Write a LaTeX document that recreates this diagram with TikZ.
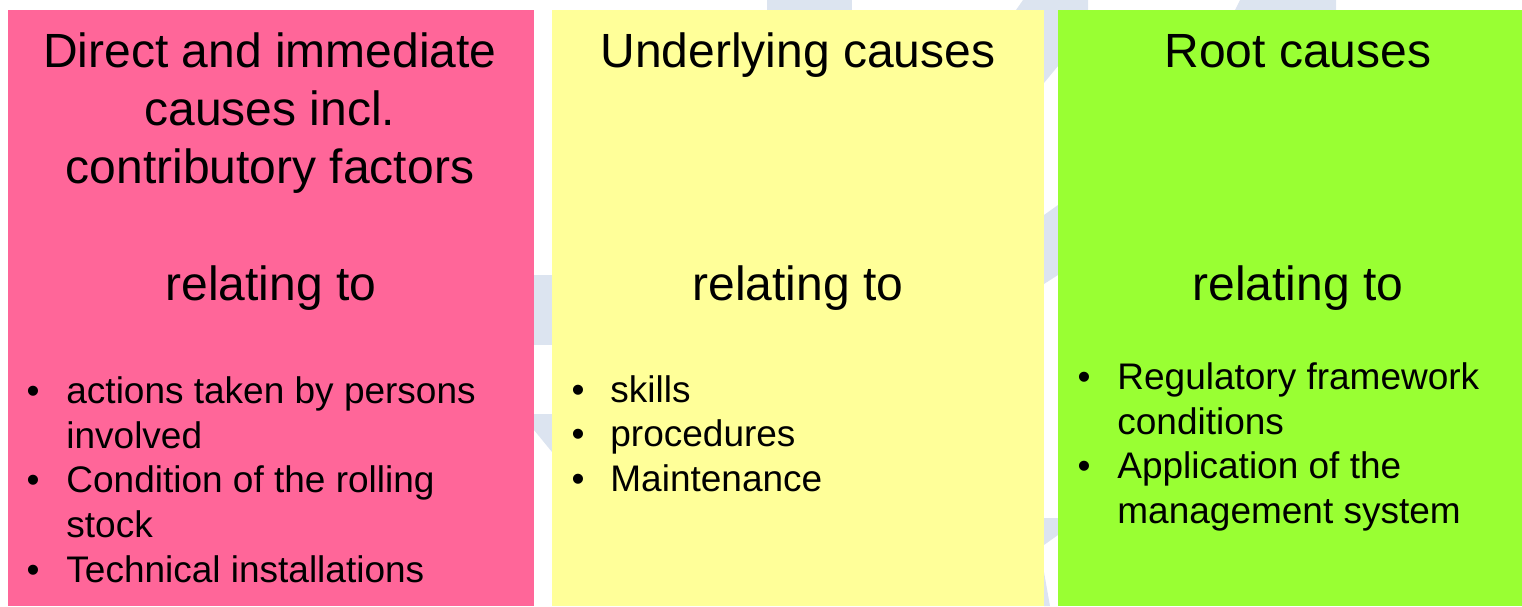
\documentclass[tikz,border=0pt]{standalone}
\usepackage{fontspec}
\setmainfont{Liberation Sans}
\definecolor{pinkbox}{HTML}{FF6699}
\definecolor{yellowbox}{HTML}{FFFF99}
\definecolor{greenbox}{HTML}{99FF33}
\definecolor{wmblue}{HTML}{DCE4F0}
\begin{document}
\begin{tikzpicture}[x=0.5pt,y=-0.5pt,
  head/.style={align=center,anchor=base,inner sep=0pt,font=\fontsize{24}{29}\selectfont},
  item/.style={align=left,anchor=base west,inner sep=0pt,font=\fontsize{18.5}{22.4}\selectfont},
  bul/.style={anchor=base,inner sep=0pt,font=\fontsize{18.5}{22.4}\selectfont}]
\useasboundingbox (0,0) rectangle (1522,606);
\fill[wmblue] (767,0) rectangle (852,10);
\fill[wmblue] (1023,0) -- (1088,0) -- (1088,10) -- (1016,10) -- cycle;
\fill[wmblue] (1240,0) -- (1336,0) -- (1336,10) -- (1235,10) -- cycle;
\fill[wmblue] (534,275) rectangle (552,345);
\fill[wmblue] (534,414) -- (552,414) -- (552,452) -- (534,430) -- cycle;
\fill[wmblue] (1044,0) -- (1058,0) -- (1058,66) -- (1044,83) -- cycle;
\fill[wmblue] (1044,215) -- (1058,205) -- (1058,275) -- (1044,284) -- cycle;
\fill[wmblue] (1044,518) -- (1058,518) -- (1058,535) -- (1044,545) -- cycle;
\fill[wmblue] (1044,572) -- (1050,606) -- (1044,606) -- cycle;
\fill[pinkbox] (8,10) rectangle (534,606);
\fill[yellowbox] (552,10) rectangle (1044,606);
\fill[greenbox] (1058,10) rectangle (1522,606);
\node[head] (direct) at (270,183) {Direct and immediate\\causes incl.\\contributory factors};
\node[head] (under) at (798,67) {Underlying causes};
\node[head] (root) at (1298,67) {Root causes};
\node[head] (relA) at (271,300) {relating to};
\node[head] (relB) at (798,300) {relating to};
\node[head] (relC) at (1298,300) {relating to};
\node[bul] (ba1) at (33,403) {•};
\node[item] (actions) at (66,448) {actions taken by persons\\involved};
\node[bul] (ba2) at (33,492) {•};
\node[item] (condition) at (66,537) {Condition of the rolling\\stock};
\node[bul] (ba3) at (33,582) {•};
\node[item] (technical) at (66,582) {Technical installations};
\node[bul] (bb1) at (578,402) {•};
\node[item] (skills) at (610,402) {skills};
\node[bul] (bb2) at (578,446) {•};
\node[item] (procedures) at (610,446) {procedures};
\node[bul] (bb3) at (578,491) {•};
\node[item] (maint) at (610,491) {Maintenance};
\node[bul] (bc1) at (1084,389) {•};
\node[item] (regul) at (1117,434) {Regulatory framework\\conditions};
\node[bul] (bc2) at (1084,478) {•};
\node[item] (applic) at (1117,523) {Application of the\\management system};
\end{tikzpicture}
\end{document}
